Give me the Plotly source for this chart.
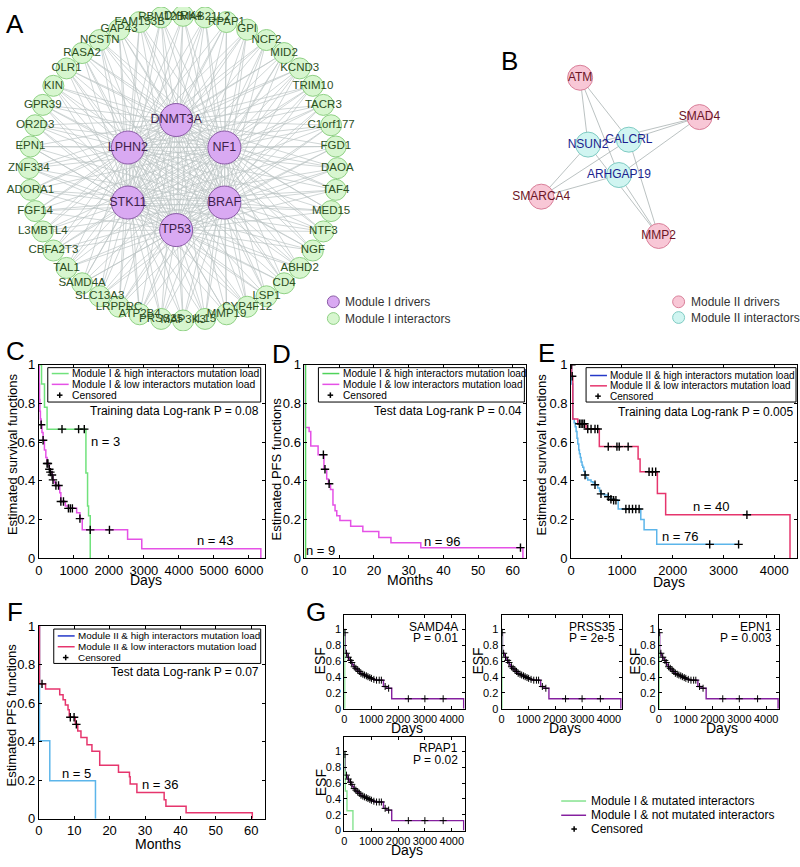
import math
import plotly.graph_objects as go

W, H = 800, 867
FONT = "Arial, Liberation Sans, Helvetica, sans-serif"
NARROW = "Liberation Sans Narrow, Arial Narrow, Arial, sans-serif"

# ---------------- Panel A: Module I network ----------------
a_drivers = ["DNMT3A", "NF1", "BRAF", "TP53", "STK11", "LPHN2"]
a_interactors = ["DYRK4", "MAB21L2", "RPAP1", "GPI", "NCF2", "MID2", "KCND3", "TRIM10",
                 "TACR3", "C1orf177", "FGD1", "DAOA", "TAF4", "MED15", "NTF3", "NGF",
                 "ABHD2", "CD4", "LSP1", "CYP4F12", "MMP19", "IL15", "MAP3K3", "PRSS35",
                 "ATP2B4", "LRPPRC", "SLC13A3", "SAMD4A", "TAL1", "CBFA2T3", "L3MBTL4",
                 "FGF14", "ADORA1", "ZNF334", "EPN1", "OR2D3", "GPR39", "KIN", "OLR1",
                 "RASA2", "NCSTN", "GAP43", "FAM153B", "RBM12B"]

# ---------------- Panel B: Module II network ----------------
b_drivers = ["ATM", "SMAD4", "SMARCA4", "MMP2"]
b_interactors = ["NSUN2", "CALCRL", "ARHGAP19"]
b_edges = [("ATM", "NSUN2"), ("ATM", "CALCRL"), ("ATM", "ARHGAP19"),
           ("SMAD4", "CALCRL"), ("SMAD4", "NSUN2"), ("SMAD4", "ARHGAP19"),
           ("SMARCA4", "NSUN2"), ("SMARCA4", "CALCRL"), ("SMARCA4", "ARHGAP19"),
           ("MMP2", "ARHGAP19"), ("MMP2", "CALCRL"), ("MMP2", "NSUN2")]
# network drawing layout (screen positions of the nodes of graph B)
b_layout = {"ATM": (579, 72), "SMAD4": (699, 112), "NSUN2": (587, 140),
            "CALCRL": (628, 135), "ARHGAP19": (618, 171), "SMARCA4": (540, 193),
            "MMP2": (658, 233)}

# ---------------- Panel C (training, Module I, days) ----------------
c_high_t = [0, 77, 162, 236, 1345, 1392, 1420, 1468]
c_high_s = [1, 0.9, 0.78, 0.667, 0.44, 0.27, 0.22, 0]
c_high_cens_t = [662, 1136, 1298]
c_high_cens_s = [0.667, 0.667, 0.667]
c_low_t = [0, 10, 20, 30, 45, 66, 90, 122, 160, 200, 235, 300, 330, 376, 404, 440, 488,
           597, 629, 758, 845, 1080, 1174, 1240, 2535, 2940, 6340]
c_low_s = [1, 0.90, 0.82, 0.76, 0.72, 0.69, 0.65, 0.61, 0.56, 0.52, 0.49, 0.46, 0.445,
           0.43, 0.405, 0.39, 0.376, 0.338, 0.293, 0.27, 0.258, 0.235, 0.205, 0.147,
           0.098, 0.049, 0]
c_low_cens_t = [66, 122, 235, 260, 300, 330, 376, 404, 488, 563, 629, 704, 845, 900, 958,
                1174, 1468, 2017]
c_low_cens_s = [0.69, 0.61, 0.49, 0.49, 0.46, 0.445, 0.43, 0.405, 0.376, 0.376, 0.293,
                0.293, 0.258, 0.258, 0.258, 0.205, 0.147, 0.147]

# ---------------- Panel D (test, Module I, months) ----------------
d_high_t = [0, 0.3]
d_high_s = [1, 0]
d_low_t = [0, 0.2, 1.34, 1.81, 3.92, 5.6, 6.4, 6.9, 7.5, 8.2, 8.8, 9.3, 10.2, 13.3, 16.8,
           21.4, 24.9, 33.5, 62.9]
d_low_s = [1, 0.675, 0.655, 0.58, 0.535, 0.46, 0.41, 0.385, 0.355, 0.275, 0.245, 0.22,
           0.195, 0.165, 0.138, 0.108, 0.08, 0.055, 0]
d_low_cens_t = [5.44, 5.9, 7.1, 62.2]
d_low_cens_s = [0.535, 0.46, 0.385, 0.055]

# ---------------- Panel E (training, Module II, days) ----------------
e_high_t = [0, 10, 33, 60, 80, 98, 115, 131, 150, 163, 180, 196, 215, 229, 250, 274, 300,
            327, 392, 430, 470, 523, 560, 588, 653, 731, 784, 837, 927, 1372, 1437, 1686,
            3299]
e_high_s = [1, 0.9, 0.72, 0.70, 0.68, 0.655, 0.62, 0.59, 0.56, 0.54, 0.52, 0.497, 0.48,
            0.47, 0.45, 0.43, 0.415, 0.405, 0.395, 0.39, 0.38, 0.363, 0.345, 0.333, 0.327,
            0.318, 0.305, 0.30, 0.255, 0.20, 0.147, 0.072, 0.072]
e_high_cens_t = [5, 274, 470, 588, 731, 784, 837, 882, 1078, 1143, 1209, 1274, 1339, 2730,
                 3299]
e_high_cens_s = [1.0, 0.43, 0.38, 0.333, 0.318, 0.305, 0.30, 0.30, 0.255, 0.255, 0.255,
                 0.255, 0.255, 0.072, 0.072]
e_low_t = [0, 10, 33, 131, 294, 555, 1319, 1358, 1699, 1862, 4312]
e_low_s = [1, 0.94, 0.72, 0.695, 0.668, 0.577, 0.513, 0.447, 0.335, 0.225, 0]
e_low_cens_t = [20, 163, 196, 229, 261, 327, 392, 470, 523, 731, 902, 947, 1123, 1535,
                1601, 1666, 3463]
e_low_cens_s = [0.94, 0.695, 0.695, 0.695, 0.695, 0.668, 0.668, 0.668, 0.668, 0.577,
                0.577, 0.577, 0.577, 0.447, 0.447, 0.447, 0.225]

# ---------------- Panel F (test, Module II, months) ----------------
f_high_t = [0, 0.2, 3.1, 16.0]
f_high_s = [1, 0.405, 0.197, 0]
f_low_t = [0, 0.2, 1.9, 5.9, 6.85, 7.5, 8.25, 8.6, 10.3, 11.0, 11.9, 13.6, 15.0, 17.2,
           22.5, 25.6, 25.8, 27.7, 35.4, 35.9, 41.6, 60.3]
f_low_s = [1, 0.70, 0.673, 0.643, 0.617, 0.59, 0.566, 0.527, 0.49, 0.456, 0.422, 0.384,
           0.35, 0.277, 0.241, 0.218, 0.18, 0.136, 0.098, 0.065, 0.031, 0]
f_low_cens_t = [0.9, 8.9, 9.96, 10.6]
f_low_cens_s = [0.70, 0.527, 0.527, 0.49]

# ---------------- Panel G (single interactors, days) ----------------
g_genes = ["SAMD4A", "PRSS35", "EPN1", "RPAP1"]
g_pvalues = ["0.01", "2e-5", "0.003", "0.02"]
g_not_t = [0, 20, 37, 60, 100, 130, 162, 200, 248, 300, 347, 400, 445, 520, 593, 650, 717,
           780, 840, 900, 963, 1050, 1148, 1457, 1580, 1765, 4442]
g_not_s = [1, 0.96, 0.716, 0.70, 0.675, 0.65, 0.633, 0.61, 0.583, 0.555, 0.53, 0.51, 0.49,
           0.47, 0.446, 0.435, 0.425, 0.415, 0.404, 0.393, 0.383, 0.37, 0.36, 0.28, 0.258,
           0.125, 0]
g_not_cens_t = [20, 80, 150, 230, 280, 370, 430, 500, 560, 620, 690, 750, 820, 880, 950,
                1010, 1100, 1200, 1300, 1380, 1520, 1650, 2383, 2999, 3679]
g_mut_t = {"SAMD4A": [0, 15], "PRSS35": [0, 15], "EPN1": [0, 15],
           "RPAP1": [0, 20, 37, 100, 322]}
g_mut_s = {"SAMD4A": [1, 0], "PRSS35": [1, 0], "EPN1": [1, 0],
           "RPAP1": [1, 0.75, 0.5, 0.25, 0]}

# ---------------- colours ----------------
GREEN = "#70e27c"
MAGENTA = "#e551e6"
RED = "#e6356d"
LIGHTBLUE = "#5cb5ea"
DARKBLUE = "#2438c8"
PURPLE = "#85209f"
GGREEN = "#85e38f"


def X(px):
    return px / W


def Y(py):
    return 1 - py / H


fig = go.Figure()
shapes = []
annotations = []
layout = dict(width=W, height=H, margin=dict(l=0, r=0, t=0, b=0),
              paper_bgcolor="white", plot_bgcolor="rgba(0,0,0,0)", showlegend=False,
              font=dict(family=FONT, color="black"))

# ---------- network axis (pixel-like coordinates for the top band) ----------
layout["xaxis9"] = dict(domain=[0, 1], range=[0, W], visible=False, fixedrange=True,
                        anchor="y9")
layout["yaxis9"] = dict(domain=[Y(330), 1], range=[330, 0], visible=False,
                        fixedrange=True, anchor="x9")

# Panel A positions: interactors on a circle, drivers on a hexagon
ring_cx, ring_cy, ring_r = 180, 164, 155
hex_cx, hex_cy, hex_r = 173, 171, 56
n_int = len(a_interactors)
a_int_pos = []
for i, name in enumerate(a_interactors):
    th = math.radians(-90 + i * 360.0 / n_int)
    a_int_pos.append((ring_cx + ring_r * math.cos(th), ring_cy + ring_r * math.sin(th)))
a_drv_pos = []
for i, name in enumerate(a_drivers):
    th = math.radians(-90 + i * 60)
    a_drv_pos.append((hex_cx + hex_r * math.cos(th), hex_cy + hex_r * math.sin(th)))

ex, ey = [], []
for dp in a_drv_pos:
    for ip in a_int_pos:
        ex += [dp[0], ip[0], None]
        ey += [dp[1], ip[1], None]
fig.add_trace(go.Scatter(x=ex, y=ey, mode="lines", line=dict(color="#bcc4c4", width=0.7),
                         xaxis="x9", yaxis="y9", hoverinfo="skip"))
fig.add_trace(go.Scatter(x=[p[0] for p in a_int_pos], y=[p[1] for p in a_int_pos],
                         mode="markers+text", text=a_interactors, textposition="middle center",
                         textfont=dict(family=NARROW, size=11.5, color="#2d4f1e"),
                         marker=dict(size=21, color="#d7f6cf", line=dict(color="#8fd184", width=1)),
                         xaxis="x9", yaxis="y9", hoverinfo="skip"))
fig.add_trace(go.Scatter(x=[p[0] for p in a_drv_pos], y=[p[1] for p in a_drv_pos],
                         mode="markers+text", text=a_drivers, textposition="middle center",
                         textfont=dict(family=FONT, size=12.5, color="#3e1f4c"),
                         marker=dict(size=33, color="#d9a9f2", line=dict(color="#8a5aa6", width=1)),
                         xaxis="x9", yaxis="y9", hoverinfo="skip"))

# Panel B
bx, by = [], []
for a, b in b_edges:
    bx += [b_layout[a][0], b_layout[b][0], None]
    by += [b_layout[a][1], b_layout[b][1], None]
fig.add_trace(go.Scatter(x=bx, y=by, mode="lines", line=dict(color="#a9b3b3", width=0.8),
                         xaxis="x9", yaxis="y9", hoverinfo="skip"))
fig.add_trace(go.Scatter(x=[b_layout[n][0] for n in b_interactors],
                         y=[b_layout[n][1] for n in b_interactors],
                         mode="markers+text", text=b_interactors, textposition="middle center",
                         textfont=dict(family=FONT, size=12, color="#1b1f8e"),
                         marker=dict(size=25, color="#d0f5f1", line=dict(color="#7fcbc3", width=1)),
                         xaxis="x9", yaxis="y9", hoverinfo="skip"))
fig.add_trace(go.Scatter(x=[b_layout[n][0] for n in b_drivers],
                         y=[b_layout[n][1] for n in b_drivers],
                         mode="markers+text", text=b_drivers, textposition="middle center",
                         textfont=dict(family=FONT, size=12, color="#6c1526"),
                         marker=dict(size=25, color="#f8c7d6", line=dict(color="#d97f99", width=1)),
                         xaxis="x9", yaxis="y9", hoverinfo="skip"))

# network legends
for (cx, cy, fill, edge, txt) in [(331, 300, "#d9a9f2", "#8a5aa6", "Module I drivers"),
                                  (331, 317, "#d7f6cf", "#8fd184", "Module I interactors"),
                                  (678, 300, "#f8c7d6", "#d97f99", "Module II drivers"),
                                  (678, 316, "#d0f5f1", "#7fcbc3", "Module II interactors")]:
    shapes.append(dict(type="circle", xref="paper", yref="paper",
                       x0=X(cx - 6), x1=X(cx + 6), y0=Y(cy + 6), y1=Y(cy - 6),
                       fillcolor=fill, line=dict(color=edge, width=1)))
    annotations.append(dict(x=X(cx + 10), y=Y(cy), xref="paper", yref="paper", text=txt,
                            showarrow=False, xanchor="left", yanchor="middle",
                            font=dict(family=FONT, size=12, color="#333333")))


# ---------- KM axes ----------
def axkey(n, kind):
    return kind + ("axis" if n == 1 else "axis%d" % n)


def ref(n, kind):
    return kind if n == 1 else "%s%d" % (kind, n)


ylab = ["0", "0.2", "0.4", "0.6", "0.8", "1"]
yv = [0, 0.2, 0.4, 0.6, 0.8, 1]
km_axes = [
    (1, 35, 262, 364, 561, [0, 6450], [0, 1], [0, 1000, 2000, 3000, 4000, 5000, 6000], 13),
    (2, 302, 525, 364, 561, [0, 63.9], [0, 1], [0, 10, 20, 30, 40, 50, 60], 13),
    (3, 570, 797, 364, 561, [0, 4450], [0, 1], [0, 1000, 2000, 3000, 4000], 13),
    (4, 35, 262, 630, 826, [0, 63.8], [0, 1], [0, 10, 20, 30, 40, 50, 60], 13),
    (5, 342, 463, 619, 714, [0, 4480], [0, 1.18], [0, 1000, 2000, 3000, 4000], 11),
    (6, 500, 621, 619, 714, [0, 4480], [0, 1.18], [0, 1000, 2000, 3000, 4000], 11),
    (7, 658, 779, 619, 714, [0, 4480], [0, 1.18], [0, 1000, 2000, 3000, 4000], 11),
    (8, 342, 463, 743, 838, [0, 4480], [0, 1.18], [0, 1000, 2000, 3000, 4000], 11),
]
for n, x0, x1, y0, y1, xr, yr, xt, fs in km_axes:
    common = dict(showline=True, linecolor="black", linewidth=1, mirror="ticks",
                  ticks="inside", ticklen=3, tickcolor="black", showgrid=False,
                  zeroline=False, fixedrange=True,
                  tickfont=dict(family=FONT, size=fs, color="black"))
    layout[axkey(n, "x")] = dict(domain=[X(x0), X(x1)], range=xr, tickvals=xt,
                                 ticktext=[str(v) for v in xt], anchor=ref(n, "y"), **common)
    layout[axkey(n, "y")] = dict(domain=[Y(y1), Y(y0)], range=yr, tickvals=yv, ticktext=ylab,
                                 anchor=ref(n, "x"), **common)


def km(n, t, s, color, width=1.5):
    fig.add_trace(go.Scatter(x=t, y=s, mode="lines", line=dict(color=color, width=width, shape="hv"),
                             xaxis=ref(n, "x"), yaxis=ref(n, "y"), hoverinfo="skip"))


def cens(n, t, s, size=6, lw=1.4):
    fig.add_trace(go.Scatter(x=t, y=s, mode="markers",
                             marker=dict(symbol="cross-thin", size=size, color="black",
                                         line=dict(width=lw, color="black")),
                             xaxis=ref(n, "x"), yaxis=ref(n, "y"), hoverinfo="skip"))


def step_at(t_list, s_list, t):
    v = s_list[0]
    for ti, si in zip(t_list, s_list):
        if ti <= t:
            v = si
    return v


# C
km(1, c_low_t, c_low_s, MAGENTA)
km(1, c_high_t, c_high_s, GREEN)
cens(1, c_low_cens_t, c_low_cens_s)
cens(1, c_high_cens_t, c_high_cens_s)
# D
km(2, d_low_t, d_low_s, MAGENTA)
km(2, d_high_t, d_high_s, "#4fd35a")
cens(2, d_low_cens_t, d_low_cens_s)
# E
km(3, e_high_t, e_high_s, LIGHTBLUE)
km(3, e_low_t, e_low_s, RED)
cens(3, e_high_cens_t, e_high_cens_s)
cens(3, e_low_cens_t, e_low_cens_s)
# F
km(4, f_high_t, f_high_s, LIGHTBLUE)
km(4, f_low_t, f_low_s, RED)
cens(4, f_low_cens_t, f_low_cens_s)
# G
for k, gene in enumerate(g_genes):
    n = 5 + k
    km(n, g_not_t, g_not_s, PURPLE, 1.4)
    km(n, g_mut_t[gene], g_mut_s[gene], GGREEN, 1.4)
    cens(n, g_not_cens_t, [step_at(g_not_t, g_not_s, t) for t in g_not_cens_t], size=5, lw=1.0)


def text(x, y, s, size=13, xanchor="center", family=FONT, angle=0, color="black"):
    annotations.append(dict(x=X(x), y=Y(y), xref="paper", yref="paper", text=s,
                            showarrow=False, xanchor=xanchor, yanchor="middle",
                            textangle=angle, font=dict(family=family, size=size, color=color)))


# panel letters
for letter, x, y in [("A", 11, 17), ("B", 508, 55), ("C", 12, 350), ("D", 279, 353),
                     ("E", 545, 352), ("F", 11, 616), ("G", 314, 616)]:
    text(x, y, letter, size=26)

# axis titles
text(8, 455, "Estimated survival functions", 13, angle=-90)
text(274, 470, "Estimated PFS functions", 13, angle=-90)
text(540, 455, "Estimated survival functions", 13, angle=-90)
text(8, 720, "Estimated PFS functions", 13, angle=-90)
text(143, 583, "Days", 14)
text(408, 583, "Months", 14)
text(668, 585, "Days", 14)
text(155, 852, "Months", 14)

# n labels and p values
text(102, 442, "n = 3")
text(213, 543, "n = 43")
text(441, 544, "n = 96")
text(318, 553, "n = 9")
text(711, 508, "n = 40")
text(680, 539, "n = 76")
text(73, 780, "n = 5")
text(157, 791, "n = 36")
text(258, 411, "Training data Log-rank P = 0.08", 12, "right")
text(523, 411, "Test data Log-rank P = 0.04", 12, "right")
text(795, 412, "Training data Log-rank P = 0.005", 12, "right")
text(258, 677, "Test data Log-rank P = 0.07", 12, "right")


def cross(cx, cy, r=2.8):
    shapes.append(dict(type="line", xref="paper", yref="paper", x0=X(cx - r), x1=X(cx + r),
                       y0=Y(cy), y1=Y(cy), line=dict(color="black", width=1.5)))
    shapes.append(dict(type="line", xref="paper", yref="paper", x0=X(cx), x1=X(cx),
                       y0=Y(cy - r), y1=Y(cy + r), line=dict(color="black", width=1.5)))


def km_legend(x0, y0, x1, y1, rows_y, colors, labels, fs=10.3):
    shapes.append(dict(type="rect", xref="paper", yref="paper", x0=X(x0), x1=X(x1),
                       y0=Y(y1), y1=Y(y0), fillcolor="white",
                       line=dict(color="black", width=1)))
    for ry, col, lab in zip(rows_y, colors + [None], labels):
        if col is None:
            cross(x0 + 12, ry)
        else:
            shapes.append(dict(type="line", xref="paper", yref="paper", x0=X(x0 + 4),
                               x1=X(x0 + 21), y0=Y(ry), y1=Y(ry),
                               line=dict(color=col, width=1.5)))
        text(x0 + 22.5, ry, lab, fs, "left", family=NARROW)


rows = [373, 384, 395]
km_legend(44, 367, 258, 402, rows, [GREEN, MAGENTA],
          ["Module I &amp; high interactors mutation load",
           "Module I &amp; low interactors mutation load", "Censored"])
km_legend(316, 367, 523, 402, rows, ["#4fd35a", MAGENTA],
          ["Module I &amp; high interactors mutation load",
           "Module I &amp; low interactors mutation load", "Censored"], fs=10.1)
km_legend(585, 367, 796, 402, [375, 385.5, 396], [DARKBLUE, RED],
          ["Module II &amp; high interactors mutation load",
           "Module II &amp; low interactors mutation load", "Censored"], fs=10.0)
km_legend(50, 633, 258, 668, [640, 651, 662], [DARKBLUE, RED],
          ["Module II &amp; high interactors mutation load",
           "Module II &amp; low interactors mutation load", "Censored"], fs=9.9)

# G annotations
g_boxes = [(342, 463, 619, 714), (500, 621, 619, 714), (658, 779, 619, 714),
           (342, 463, 743, 838)]
for (x0, x1, y0, y1), gene, p in zip(g_boxes, g_genes, g_pvalues):
    text(x1 - 5, y0 + 11.5, gene, 12, "right")
    text(x1 - 5, y0 + 23.5, "P = " + p, 12, "right")
    text(x0 - 24, (y0 + y1) / 2 - 1, "ESF", 14, angle=-90)
    text((x0 + x1) / 2 + 3, y1 + 19.5, "Days", 14)

# G legend
for ly, col, lab in [(808, GGREEN, "Module I &amp; mutated interactors"),
                     (822.5, PURPLE, "Module I &amp; not mutated interactors")]:
    shapes.append(dict(type="line", xref="paper", yref="paper", x0=X(560), x1=X(585),
                       y0=Y(ly), y1=Y(ly), line=dict(color=col, width=1.5)))
    text(588, ly, lab, 12, "left")
cross(573, 836.5)
text(588, 836.5, "Censored", 12, "left")

layout["shapes"] = shapes
layout["annotations"] = annotations
fig.update_layout(**layout)

fig.write_html("out.html", config={"displayModeBar": False},
               post_script="document.body.style.margin='0';document.body.style.overflow='hidden';")
